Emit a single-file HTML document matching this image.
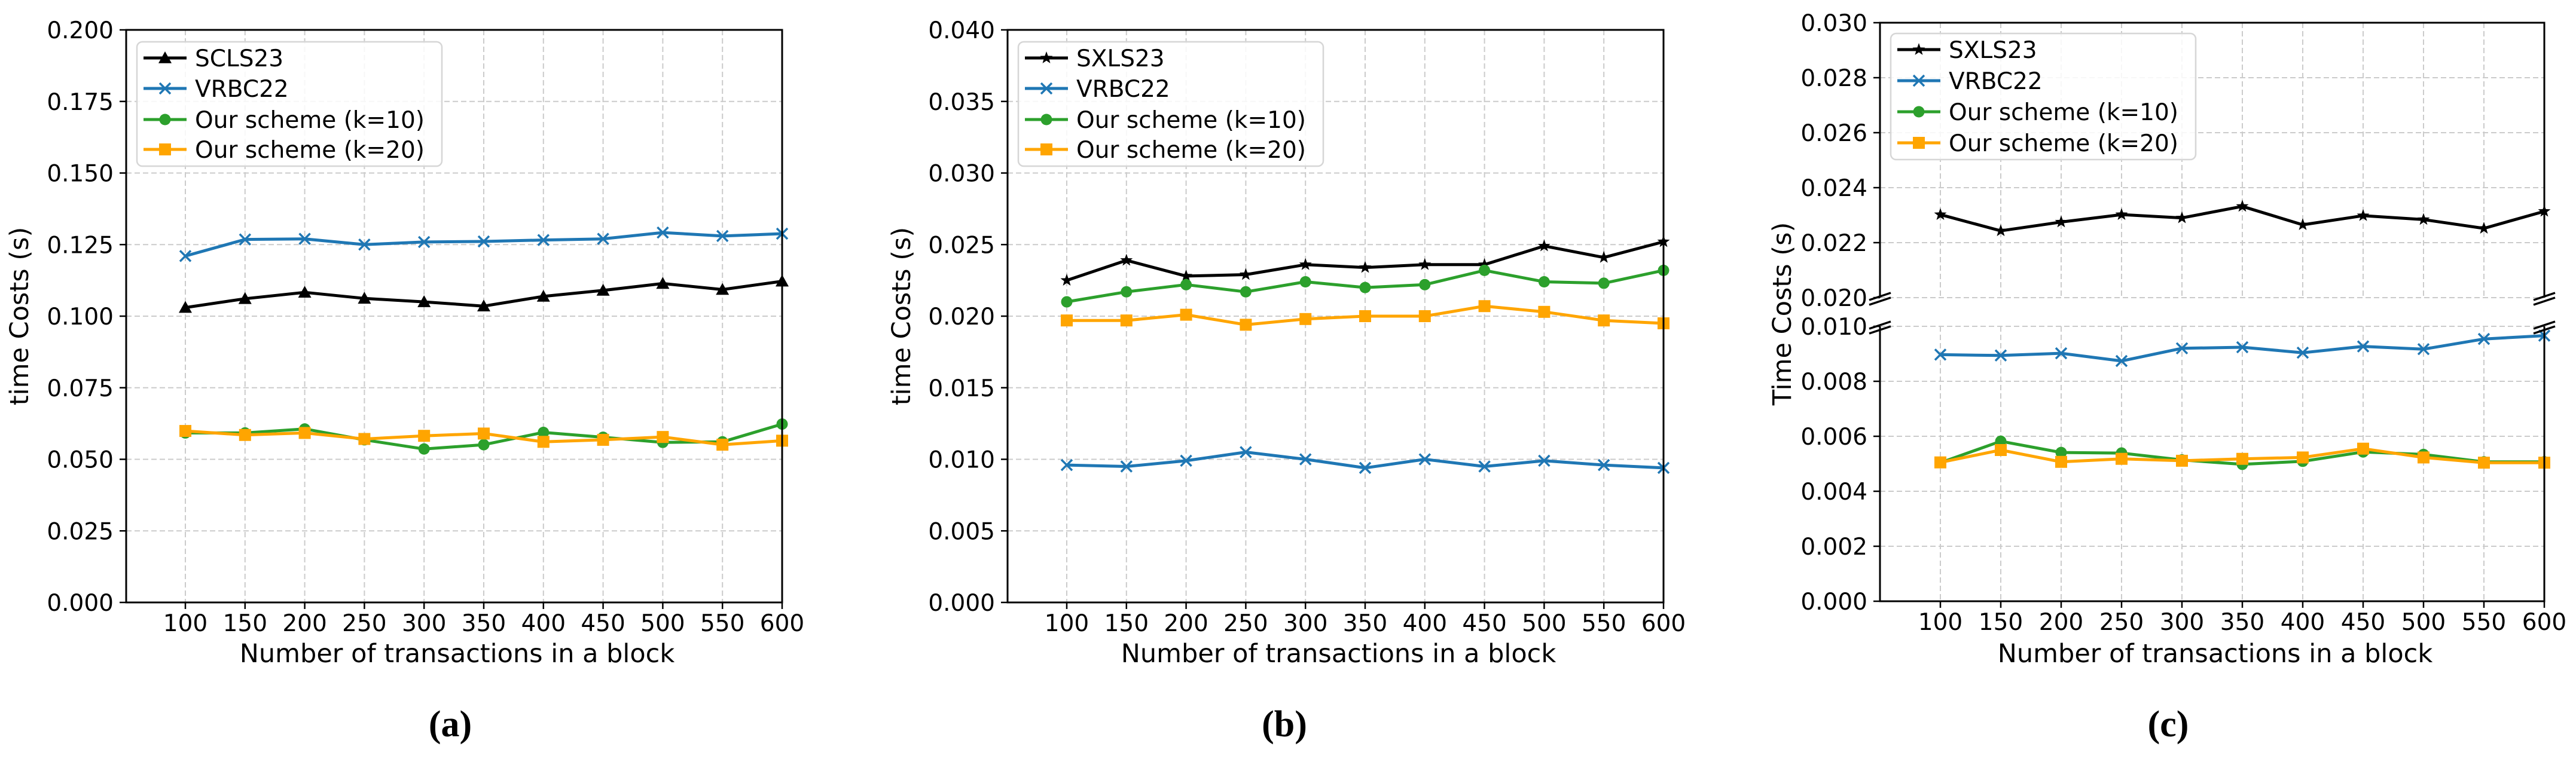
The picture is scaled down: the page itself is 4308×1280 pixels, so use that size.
<!DOCTYPE html>
<html><head><meta charset="utf-8"><style>
html,body{margin:0;padding:0;background:#fff;}
svg{display:block;font-family:"DejaVu Sans","Liberation Sans",sans-serif;}
</style></head><body>
<svg id="fig" width="4308" height="1280" viewBox="0 0 4308 1280" xmlns="http://www.w3.org/2000/svg"></svg>
<script>
const xCategories = [100,150,200,250,300,350,400,450,500,550,600];
const seriesNames = ["SCLS23","VRBC22","Our scheme (k=10)","Our scheme (k=20)"];
const seriesNamesBC = ["SXLS23","VRBC22","Our scheme (k=10)","Our scheme (k=20)"];
// panel a
const aSCLS23 = [0.1030,0.1061,0.1083,0.1062,0.1050,0.1035,0.1069,0.1090,0.1114,0.1093,0.1122];
const aVRBC22 = [0.1210,0.1268,0.1270,0.1250,0.1259,0.1261,0.1266,0.1270,0.1292,0.1280,0.1288];
const aK10 = [0.0592,0.0592,0.0606,0.0568,0.0536,0.0551,0.0594,0.0577,0.0559,0.0561,0.0623];
const aK20 = [0.0599,0.0585,0.0592,0.0571,0.0582,0.0590,0.0561,0.0568,0.0578,0.0551,0.0565];
const aTicks = ["0.000","0.025","0.050","0.075","0.100","0.125","0.150","0.175","0.200"];
// panel b
const bSXLS23 = [0.0225,0.0239,0.0228,0.0229,0.0236,0.0234,0.0236,0.0236,0.0249,0.0241,0.0252];
const bVRBC22 = [0.0096,0.0095,0.0099,0.0105,0.0100,0.0094,0.0100,0.0095,0.0099,0.0096,0.0094];
const bK10 = [0.0210,0.0217,0.0222,0.0217,0.0224,0.0220,0.0222,0.0232,0.0224,0.0223,0.0232];
const bK20 = [0.0197,0.0197,0.0201,0.0194,0.0198,0.0200,0.0200,0.0207,0.0203,0.0197,0.0195];
const bTicks = ["0.000","0.005","0.010","0.015","0.020","0.025","0.030","0.035","0.040"];
// panel c
const cSXLS23 = [0.02302,0.02243,0.02275,0.02302,0.02290,0.02332,0.02265,0.02298,0.02284,0.02252,0.02314];
const cVRBC22 = [0.00897,0.00894,0.00902,0.00874,0.00920,0.00924,0.00904,0.00927,0.00917,0.00954,0.00966];
const cK10 = [0.00504,0.00582,0.00541,0.00539,0.00514,0.00498,0.00509,0.00543,0.00534,0.00507,0.00507];
const cK20 = [0.00505,0.00550,0.00507,0.00518,0.00511,0.00518,0.00523,0.00555,0.00523,0.00504,0.00504];
const cUpperTicks = ["0.020","0.022","0.024","0.026","0.028","0.030"];
const cLowerTicks = ["0.000","0.002","0.004","0.006","0.008","0.010"];

const NS="http://www.w3.org/2000/svg";
const svg=document.getElementById('fig');
function mk(tag,attrs,parent){const e=document.createElementNS(NS,tag);for(const k in attrs)e.setAttribute(k,attrs[k]);(parent||svg).appendChild(e);return e;}
const COLORS=["#000000","#1f77b4","#2ca02c","#ffa500"];
const GRID="#cbcbcb";

function marker(g,type,x,y,color){
  let m;
  if(type==="tri"){const s=11;m=mk('polygon',{points:`${x},${y-s} ${x-s},${y+s*0.8} ${x+s},${y+s*0.8}`,fill:color},g);}
  else if(type==="star"){let p=[];for(let i=0;i<10;i++){const r=i%2?4.5:11;const a=-Math.PI/2+i*Math.PI/5;p.push((x+r*Math.cos(a)).toFixed(1)+","+(y+r*Math.sin(a)).toFixed(1));}m=mk('polygon',{points:p.join(" "),fill:color},g);}
  else if(type==="x"){const s=9;m=mk('path',{d:`M${x-s},${y-s}L${x+s},${y+s}M${x-s},${y+s}L${x+s},${y-s}`,stroke:color,'stroke-width':3.5,fill:'none'},g);}
  else if(type==="circle"){m=mk('circle',{cx:x,cy:y,r:9.5,fill:color},g);}
  else {m=mk('rect',{x:x-10,y:y-10,width:20,height:20,fill:color},g);}
  
  
}

function xAxisFn(p){return v=>p.x100+(v-100)*(p.x600-p.x100)/500;}
function yAxisFn(y0,y1,v0,v1){return v=>y0+(v-v0)*(y1-y0)/(v1-v0);}

function drawSeries(g,xs,vals,yf,color,mtype,name){
  const sg=mk('g',{},g);
  
  
  const pts=vals.map((v,i)=>xs(xCategories[i]).toFixed(1)+","+yf(v).toFixed(1));
  const l=mk('polyline',{points:pts.join(" "),fill:'none',stroke:color,'stroke-width':5,'stroke-linejoin':'round'},sg);
  
  
  vals.forEach((v,i)=>marker(sg,mtype,xs(xCategories[i]),yf(v),color));
}

function xAxis(g,p,xs,bottom){
  xCategories.forEach(c=>{
    const x=xs(c);
    mk('line',{x1:x,y1:p.top,x2:x,y2:bottom,stroke:GRID,'stroke-width':2,'stroke-dasharray':'9,5'},g);
    mk('line',{x1:x,y1:bottom,x2:x,y2:bottom+11,stroke:'#000','stroke-width':2.5},g);
    const t=mk('text',{x:x,y:bottom+48,'font-size':39,'text-anchor':'middle',fill:'#000'},g);
    t.textContent=c;
    
    
  });
  const xl=mk('text',{x:(p.left+p.x600)/2+5,y:1108,'font-size':43,'text-anchor':'middle',fill:'#000'},g);
  xl.textContent="Number of transactions in a block";
  
  
}

function yTicks(g,p,labels,yf,vmin,step){
  labels.forEach((lab,i)=>{
    const y=yf(vmin+i*step);
    mk('line',{x1:p.left,y1:y,x2:p.x600,y2:y,stroke:GRID,'stroke-width':2,'stroke-dasharray':'9,5'},g);
    mk('line',{x1:p.left-11,y1:y,x2:p.left,y2:y,stroke:'#000','stroke-width':2.5},g);
    const t=mk('text',{x:p.left-21,y:y+14,'font-size':39,'text-anchor':'end',fill:'#000'},g);
    t.textContent=lab;
    
    
  });
}

function legend(g,lx,top,rowY,names,mtypes){
  const lg=mk('g',{},g);
  
  
  mk('rect',{x:lx,y:top,width:510,height:rowY[3]-top+28,rx:9,fill:'#fff','fill-opacity':0.85,stroke:'#d6d6d6','stroke-width':2.5},lg);
  names.forEach((n,i)=>{
    const e=mk('g',{},lg);
    
    
    mk('line',{x1:lx+11,y1:rowY[i],x2:lx+83,y2:rowY[i],stroke:COLORS[i],'stroke-width':5},e);
    marker(e,mtypes[i],lx+47,rowY[i],COLORS[i]);
    const t=mk('text',{x:lx+97,y:rowY[i]+14,'font-size':39,fill:'#000'},e);
    t.textContent=n;
  });
}

function ylabel(g,x,y,txt){
  const t=mk('text',{x:x,y:y,'font-size':43,'text-anchor':'middle',fill:'#000',transform:`rotate(-90 ${x} ${y})`},g);
  t.textContent=txt;
  
  
}

function caption(x,txt,name){
  const t=mk('text',{x:x,y:1232,'font-size':62,'text-anchor':'middle','font-weight':'bold','font-family':'"Liberation Serif",serif',fill:'#000'});
  t.textContent=txt;
  
  
}

function simplePanel(p,ticks,vmax,series,names,mtypes,ylab,ylx,name){
  const g=mk('g',{});
  
  
  const xs=xAxisFn(p);
  const yf=yAxisFn(p.bottom,p.top,0,vmax);
  yTicks(g,p,ticks,yf,0,vmax/(ticks.length-1));
  xAxis(g,p,xs,p.bottom);
  series.forEach((s,i)=>drawSeries(g,xs,s,yf,COLORS[i],mtypes[i],names[i]));
  mk('rect',{x:p.left,y:p.top,width:p.x600-p.left,height:p.bottom-p.top,fill:'none',stroke:'#000','stroke-width':3},g);
  legend(g,p.left+18,70,[97,148,200,250],names,mtypes);
  ylabel(g,ylx,529,ylab);
}

const pa={left:211,x100:310,x600:1308,top:50,bottom:1008};
simplePanel(pa,aTicks,0.2,[aSCLS23,aVRBC22,aK10,aK20],seriesNames,["tri","x","circle","square"],"time Costs (s)",47,"panel-a");
const pb={left:1685,x100:1784,x600:2782,top:50,bottom:1008};
simplePanel(pb,bTicks,0.04,[bSXLS23,bVRBC22,bK10,bK20],seriesNamesBC,["star","x","circle","square"],"time Costs (s)",1522,"panel-b");

// panel c (broken axis)
(function(){
  const p={left:3144,x100:3245,x600:4255,top:38,bottom:1006};
  const g=mk('g',{});
  
  
  const xs=xAxisFn(p);
  const upTop=38, upBot=498, loTop=546, loBot=1006;
  const yu=yAxisFn(upBot,upTop,0.020,0.030);
  const yl=yAxisFn(loBot,loTop,0,0.010);
  const pu={left:p.left,x600:p.x600,top:upTop};
  const pl={left:p.left,x600:p.x600,top:loTop};
  yTicks(g,pu,cUpperTicks,yu,0.020,0.002);
  yTicks(g,pl,cLowerTicks,yl,0,0.002);
  xCategories.forEach(c=>{const x=xs(c);mk('line',{x1:x,y1:upTop,x2:x,y2:upBot,stroke:GRID,'stroke-width':2,'stroke-dasharray':'9,5'},g);});
  xAxis(g,pl,xs,loBot);
  drawSeries(g,xs,cSXLS23,yu,COLORS[0],"star",seriesNamesBC[0]);
  drawSeries(g,xs,cVRBC22,yl,COLORS[1],"x",seriesNamesBC[1]);
  drawSeries(g,xs,cK10,yl,COLORS[2],"circle",seriesNamesBC[2]);
  drawSeries(g,xs,cK20,yl,COLORS[3],"square",seriesNamesBC[3]);
  mk('path',{d:`M${p.left},${upBot}V${upTop}H${p.x600}V${upBot}`,fill:'none',stroke:'#000','stroke-width':3},g);
  mk('path',{d:`M${p.left},${loTop}V${loBot}H${p.x600}V${loTop}`,fill:'none',stroke:'#000','stroke-width':3},g);
  [upBot,loTop].forEach(y=>{[p.left,p.x600].forEach(x=>{
    const b=mk('path',{d:`M${x-18},${y+4}L${x+18},${y-8}M${x-18},${y+12}L${x+18},${y}`,stroke:'#000','stroke-width':3.5,fill:'none'},g);
    
    
  });});
  legend(g,p.left+18,56,[83,135,187,239],seriesNamesBC,["star","x","circle","square"]);
  ylabel(g,2995,525,"Time Costs (s)");
})();

caption(753,"(a)","caption-a");
caption(2148,"(b)","caption-b");
caption(3626,"(c)","caption-c");
</script>
</body></html>
